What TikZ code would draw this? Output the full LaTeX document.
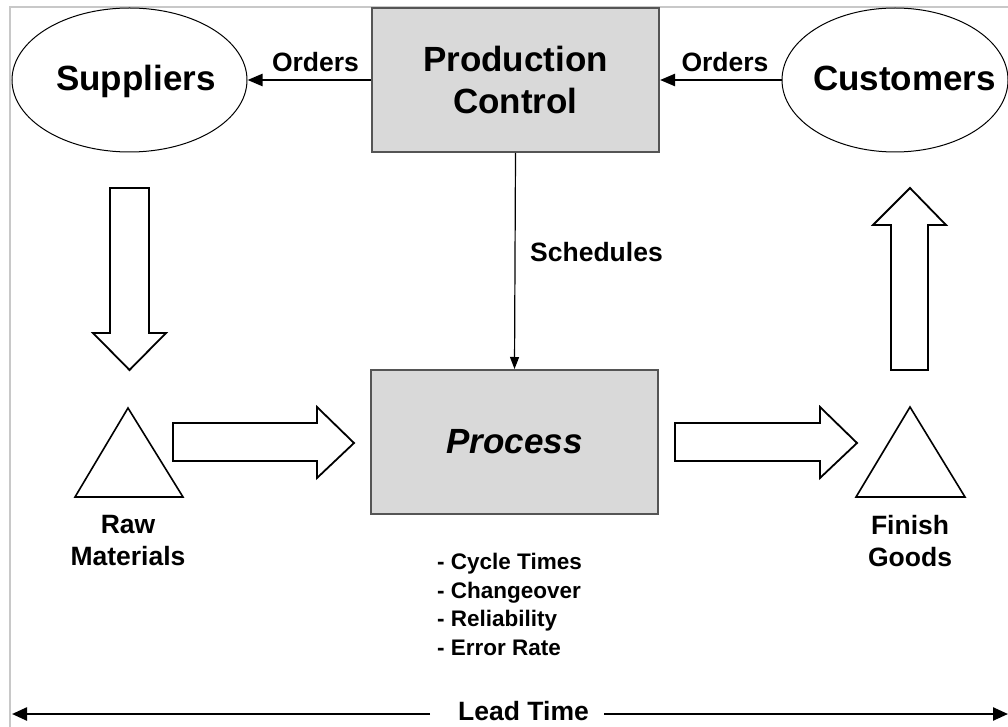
\documentclass[tikz,border=0pt]{standalone}
\usepackage{fontspec}
\setmainfont{Liberation Sans}
\usetikzlibrary{shapes.geometric,arrows.meta}
\definecolor{boxfill}{RGB}{217,217,217}
\definecolor{boxedge}{RGB}{85,85,85}
\definecolor{framegray}{RGB}{200,200,200}
\tikzset{
  bigtext/.style={font=\fontsize{35}{42}\selectfont\bfseries},
  midtext/.style={font=\fontsize{26.5}{32}\selectfont\bfseries},
  smalltext/.style={font=\fontsize{22.5}{28.5}\selectfont\bfseries},
  party/.style={ellipse, draw=black, line width=1pt, inner sep=0pt},
  gbox/.style={rectangle, draw=boxedge, fill=boxfill, line width=2pt,
    minimum width=287pt, minimum height=144pt, inner sep=0pt, bigtext, align=center},
  blockarrow/.style={draw=black, fill=white, line width=1.8pt, line join=miter},
  stock/.style={draw=black, fill=white, line width=1.6pt, line join=miter},
  flowline/.style={draw=black, line width=2.4pt, -{Triangle[length=15pt,width=12pt]}},
  schedline/.style={draw=black, line width=1.2pt, -{Triangle[length=12pt,width=9pt]}},
  leadline/.style={draw=black, line width=2.4pt, -{Triangle[length=15pt,width=13pt]}}
}
\begin{document}
\begin{tikzpicture}[x=1pt,y=1pt]
\useasboundingbox (0,0) rectangle (1008,-727);
\fill[white] (0,0) rectangle (1008,-727);

% frame
\draw[framegray, line width=1.5pt] (10,-727) -- (10,-7) -- (1008,-7);

% top row
\node[party, minimum width=235pt, minimum height=144pt] (sup) at (129.5,-80) {};
\node[bigtext] (supT) at (136,-81.5) {Suppliers};
\node[party, minimum width=226pt, minimum height=144pt] (cus) at (895,-80) {};
\node[bigtext] (cusT) at (904.5,-78) {Customers};
\node[gbox] (pc) at (515.5,-80) {Production\\Control};

\draw[flowline] (pc.west) -- (sup.east);
\draw[flowline] (cus.west) -- (pc.east);
\node[midtext] (ordL) at (315.5,-62) {Orders};
\node[midtext] (ordR) at (725,-62) {Orders};

% process
\node[gbox] (proc) at (514.5,-442) {\itshape Process};
\draw[schedline] (pc.south) -- (proc.north);
\node[midtext, anchor=west, inner sep=0pt] (sched) at (530,-252) {Schedules};

% supplier to raw materials
\draw[blockarrow] (110,-188) -- (149,-188) -- (149,-333) -- (166,-333) -- (129.5,-370)
  -- (93,-333) -- (110,-333) -- cycle;

% raw materials stock
\draw[stock] (128,-408) -- (183,-497) -- (75,-497) -- cycle;
\node[midtext, align=center] (raw) at (128,-541) {Raw\\Materials};

% raw materials to process
\draw[blockarrow] (173,-423) -- (317,-423) -- (317,-407) -- (354,-443) -- (317,-478)
  -- (317,-461) -- (173,-461) -- cycle;

% process to finished goods
\draw[blockarrow] (675,-423) -- (820,-423) -- (820,-407) -- (857,-443) -- (820,-478)
  -- (820,-461) -- (675,-461) -- cycle;

% finished goods stock
\draw[stock] (910,-407) -- (965,-497) -- (856,-497) -- cycle;
\node[midtext, align=center] (fin) at (910,-541) {Finish\\Goods};

% finished goods to customers
\draw[blockarrow] (891,-370) -- (891,-225) -- (873,-225) -- (910,-188) -- (946,-225)
  -- (928,-225) -- (928,-370) -- cycle;

% process attributes
\node[smalltext, align=left, anchor=west, inner sep=0pt] (attr) at (437,-604.5)
  {- Cycle Times\\- Changeover\\- Reliability\\- Error Rate};

% lead time
\node[midtext, inner sep=0pt] (lead) at (523.5,-711) {Lead Time};
\coordinate (ltL) at (12,-714);
\coordinate (ltR) at (1008,-714);
\coordinate (gapL) at (430,-714);
\coordinate (gapR) at (604,-714);
\draw[leadline] (gapL) -- (ltL);
\draw[leadline] (gapR) -- (ltR);
\end{tikzpicture}
\end{document}
